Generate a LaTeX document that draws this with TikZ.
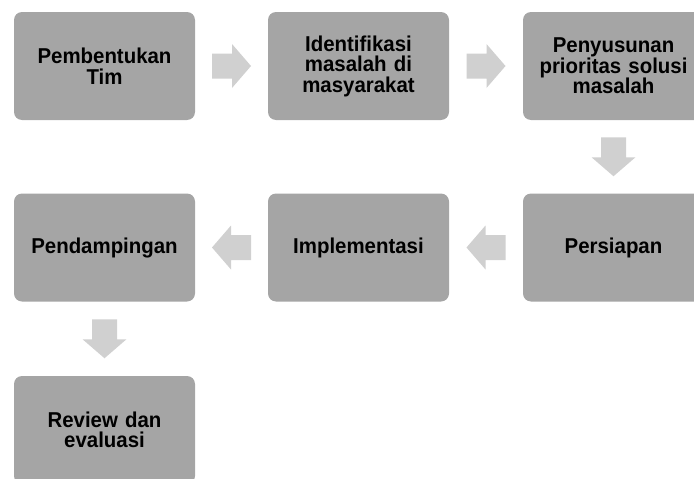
\documentclass[tikz,border=0pt]{standalone}
\usepackage{fontspec}
\setmainfont{Liberation Sans}
\newfontfamily\boxfont[FakeStretch=0.95]{Liberation Sans}
\usetikzlibrary{calc}
\definecolor{boxgray}{HTML}{A5A5A5}
\definecolor{arrowgray}{HTML}{D0D0D0}
\tikzset{
  stepbox/.style={fill=boxgray, rounded corners=8pt, minimum width=181pt, minimum height=108pt,
    inner sep=0pt, align=center, text width=172pt,
    font=\boxfont\bfseries\fontsize{21.5pt}{20.5pt}\selectfont, text=black},
  barrow/.pic={
    \fill[arrowgray] (-19.5,-12.5) -- (0.5,-12.5) -- (0.5,-22) -- (19.5,0) -- (0.5,22)
      -- (0.5,12.5) -- (-19.5,12.5) -- cycle;
  }
}
\begin{document}
\begin{tikzpicture}[x=1pt,y=1pt]
\useasboundingbox (0,0) rectangle (694,-479);
\clip (0,0) rectangle (694,-479);
\node[stepbox] (b1) at (104.5,-66) {Pembentukan\\Tim};
\node[stepbox] (b2) at (358.5,-66) {Identifikasi\\masalah di\\masyarakat};
\node[stepbox] (b3) at (613.5,-66) {Penyusunan\\prioritas solusi\\masalah};
\node[stepbox] (b4) at (613.5,-247.5) {Persiapan};
\node[stepbox] (b5) at (358.5,-247.5) {Implementasi};
\node[stepbox] (b6) at (104.5,-247.5) {Pendampingan};
\node[stepbox] (b7) at (104.5,-430) {Review dan\\evaluasi};
\coordinate (m1) at ($(b1.east)!0.5!(b2.west)$);
\coordinate (m2) at ($(b2.east)!0.5!(b3.west)$);
\coordinate (m3) at ($(b3.south)!0.5!(b4.north)$);
\coordinate (m4) at ($(b4.west)!0.5!(b5.east)$);
\coordinate (m5) at ($(b5.west)!0.5!(b6.east)$);
\coordinate (m6) at ($(b6.south)!0.5!(b7.north)$);
\pic at (m1) {barrow};
\pic at (m2) {barrow};
\pic[rotate=-90] at (m3) {barrow};
\pic[rotate=180] at (m4) {barrow};
\pic[rotate=180] at (m5) {barrow};
\pic[rotate=-90] at (m6) {barrow};
\end{tikzpicture}
\end{document}
